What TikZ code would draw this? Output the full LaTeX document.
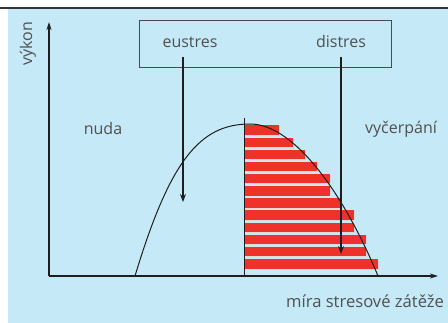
\documentclass[tikz,border=0pt]{standalone}
\usepackage{fontspec}
\setmainfont{Open Sans}
\usetikzlibrary{arrows.meta}
\definecolor{bgblue}{HTML}{C6E9F8}
\definecolor{barred}{HTML}{EE3129}
\definecolor{txtgray}{HTML}{505050}
\definecolor{linedark}{HTML}{1E1E1E}
\tikzset{
  lbl/.style={text=txtgray, font=\fontsize{16}{19}\selectfont, inner sep=0pt},
  axisline/.style={draw=linedark, line width=1.5pt, -{Stealth[length=8pt,width=5pt]}},
  stressarrow/.style={draw=linedark, line width=1.3pt, -{Stealth[length=8pt,width=6pt]}},
  bar/.style={fill=barred, draw=none},
  barshadow/.style={fill=gray!30, draw=none},
}
\begin{document}
\begin{tikzpicture}[x=1pt,y=-1pt]
\useasboundingbox (0,0) rectangle (448,323);
% background
\fill[bgblue] (8,9) rectangle (448,323);
\draw[draw=linedark!90, line width=2.5pt] (0,8) -- (448,8);
% axes
\coordinate (O) at (49,276);
\coordinate (ytop) at (49,22);
\coordinate (xend) at (438,276);
\draw[axisline] (O) -- (ytop);
\draw[axisline] (O) -- (xend);
% axis labels
\node[lbl, rotate=90] (vykon) at (28,44) {výkon};
\node[lbl, anchor=west, font=\fontsize{16.6}{20}\selectfont] (mira) at (286,301) {míra stresové zátěže};
% region labels
\node[lbl] (nuda) at (103,129) {nuda};
\node[lbl] (vycerpani) at (401,129) {vyčerpání};
% bars
\foreach \yt/\xr in {125.5/279, 137.7/293, 149.7/305, 161.7/317, 173.7/330, 186/330, 198.3/341, 210.3/354, 222.7/354, 234.7/366, 246.7/366, 259.3/378}{
  \fill[barshadow] (246,\yt+1) rectangle (\xr+1,\yt+10.5);
  \fill[bar] (245,\yt) rectangle (\xr,\yt+9.6);
}
% middle vertical line
\coordinate (midtop) at (244,118);
\coordinate (midbot) at (244,276);
\draw[draw=linedark, line width=1pt] (midtop) -- (midbot);
% curve
\coordinate (c0) at (135,276);
\coordinate (cpeak) at (250,124);
\coordinate (c1) at (378,276);
\draw[draw=linedark, line width=1pt] (c0) .. controls (170,160) and (200,124) .. (cpeak)
  .. controls (295,124) and (345,196) .. (c1);
% box
\node[draw=linedark!80, line width=0.9pt, minimum width=252pt, minimum height=47pt, inner sep=0pt] (box) at (265,43.5) {};
\node[lbl] (eustres) at (190,42) {eustres};
\node[lbl] (distres) at (341,42) {distres};
% arrows
\coordinate (eus) at (183,57);
\coordinate (eue) at (183,202);
\coordinate (dis) at (341,57);
\coordinate (die) at (341,254);
\draw[stressarrow] (eus) -- (eue);
\draw[stressarrow] (dis) -- (die);
\end{tikzpicture}
\end{document}
